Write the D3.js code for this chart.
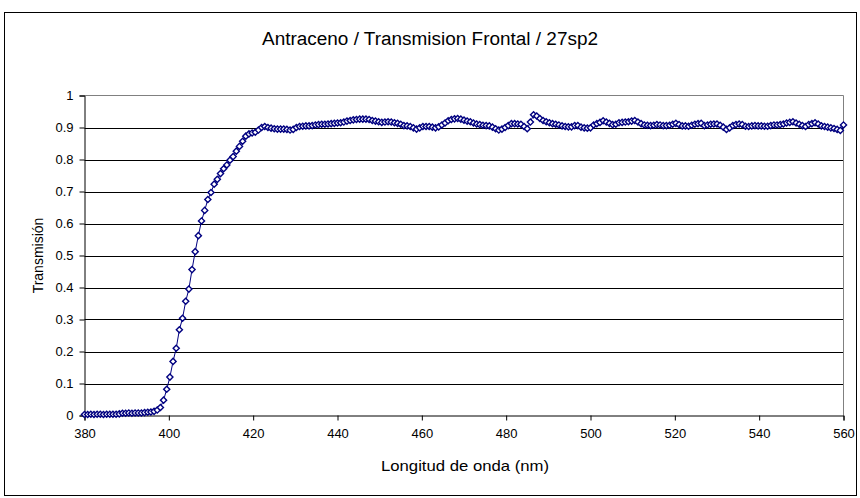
<!DOCTYPE html>
<html><head><meta charset="utf-8">
<script src="https://cdn.jsdelivr.net/npm/d3@7"></script>
<style>
html,body{margin:0;padding:0;background:#fff;}
svg{display:block;font-family:"Liberation Sans",Arial,sans-serif;}
</style></head>
<body>
<svg id="chart" width="860" height="498"></svg>
<script>
// ---- data ----
const titleText = "Antraceno / Transmision Frontal / 27sp2";
const xTitle = "Longitud de onda (nm)";
const yTitle = "Transmisión";
const xTicks = [380, 400, 420, 440, 460, 480, 500, 520, 540, 560];
const yTicks = [0, 0.1, 0.2, 0.3, 0.4, 0.5, 0.6, 0.7, 0.8, 0.9, 1];
const wlStart = 380, wlStep = 0.75;
const transmission = [
  0.003,0.003,0.004,0.003,0.004,0.004,0.003,0.004,0.004,0.004,0.004,0.005,
  0.007,0.007,0.008,0.007,0.008,0.008,0.008,0.009,
  0.010,0.011,0.013,0.017,
  0.025,0.048,0.082,0.120,0.169,0.210,0.268,0.304,0.357,0.395,
  0.456,0.512,0.562,0.608,0.641,0.675,0.697,0.723,0.738,0.756,
  0.771,0.783,0.798,0.809,0.826,0.841,0.857,0.873,0.880,0.883,
  0.885,0.892,0.900,0.903,
  // 423.5 ->
  0.900,0.898,0.896,0.895,0.895,0.895,0.894,0.892,0.894,0.900,
  0.903,0.904,0.905,0.905,0.906,0.908,0.909,0.910,0.910,0.911,
  0.912,0.913,0.914,0.915,0.917,0.920,0.922,0.924,0.925,0.926,
  0.926,0.926,0.925,0.922,0.920,0.918,0.916,0.917,0.918,0.917,
  0.915,0.913,0.910,0.906,0.905,0.903,0.899,0.895,0.899,0.903,
  0.903,0.903,0.901,0.899,0.902,0.908,0.914,0.921,0.925,0.927,
  0.928,0.926,0.923,0.920,0.918,0.914,0.911,0.909,0.907,0.906,
  0.905,0.901,0.896,0.892,0.895,0.900,0.906,0.912,0.912,0.911,
  0.910,0.903,0.896,0.917,0.940,0.936,0.928,0.922,0.918,0.915,
  0.912,0.910,0.908,0.905,0.903,0.902,0.902,0.906,0.906,0.901,
  0.899,0.898,0.899,0.908,0.912,0.916,0.921,0.917,0.913,0.909,
  0.910,0.915,0.916,0.917,0.918,0.920,0.922,0.917,0.912,0.908,
  0.907,0.906,0.907,0.909,0.908,0.906,0.906,0.907,0.910,0.913,
  0.909,0.905,0.905,0.904,0.907,0.910,0.912,0.913,0.906,0.908,
  0.910,0.911,0.911,0.907,0.901,0.894,0.899,0.906,0.909,0.911,
  0.909,0.904,0.903,0.905,0.906,0.905,0.905,0.904,0.904,0.906,
  0.908,0.908,0.909,0.911,0.914,0.916,0.918,0.914,0.910,0.906,
  0.903,0.909,0.912,0.915,0.911,0.905,0.903,0.901,0.899,0.897,
  0.894,0.891,0.908
];
const data = transmission.map((v, i) => ({ x: wlStart + i * wlStep, y: v }));

// ---- layout ----
const svg = d3.select("#chart");
const plot = { left: 84.5, right: 843.5, top: 95.5, bottom: 415.5 };

// outer border
svg.append("rect").attr("x", 4.5).attr("y", 12.5).attr("width", 852).attr("height", 483)
  .attr("fill", "#fff").attr("stroke", "#000").attr("stroke-width", 1);

const x = d3.scaleLinear().domain([380, 560]).range([plot.left, plot.right]);
const y = d3.scaleLinear().domain([0, 1]).range([plot.bottom, plot.top]);

// gridlines
svg.append("g").selectAll("line").data(yTicks.filter(t => t > 0 && t < 1)).join("line")
  .attr("x1", plot.left).attr("x2", plot.right)
  .attr("y1", d => Math.round(y(d)) + 0.5).attr("y2", d => Math.round(y(d)) + 0.5)
  .attr("stroke", "#000").attr("stroke-width", 1);

// plot area border (top/right gray)
svg.append("path")
  .attr("d", `M${plot.left},${plot.top}H${plot.right}V${plot.bottom}`)
  .attr("fill", "none").attr("stroke", "#808080").attr("stroke-width", 1);

// axes
const fmt = d => d === 0 ? "0" : d === 1 ? "1" : d3.format(".1f")(d);
const yAxis = d3.axisLeft(y).tickValues(yTicks).tickFormat(fmt).tickSize(5).tickPadding(6);
const xAxis = d3.axisBottom(x).tickValues(xTicks).tickFormat(d3.format("d")).tickSize(5).tickPadding(8);

const gy = svg.append("g").attr("transform", `translate(${plot.left},0)`).call(yAxis);
const gx = svg.append("g").attr("transform", `translate(0,${plot.bottom})`).call(xAxis);
[gx, gy].forEach(g => {
  g.select(".domain").attr("stroke", "#000");
  g.selectAll(".tick line").attr("stroke", "#000");
  g.selectAll(".tick text").attr("fill", "#000").attr("font-size", "13px")
    .attr("font-family", "'Liberation Sans', Arial, sans-serif");
});

// line
const line = d3.line().x(d => x(d.x)).y(d => y(d.y));
svg.append("path").datum(data).attr("d", line)
  .attr("fill", "none").attr("stroke", "#000080").attr("stroke-width", 1);

// markers (hollow diamonds)
const sym = d3.symbol().type(d3.symbolDiamond2).size(24);
svg.append("g").selectAll("path").data(data).join("path")
  .attr("transform", d => `translate(${x(d.x)},${y(d.y)})`)
  .attr("d", sym)
  .attr("fill", "#fff").attr("stroke", "#000080").attr("stroke-width", 1.4);

// titles
svg.append("text").attr("x", 430).attr("y", 45).attr("text-anchor", "middle")
  .attr("font-size", "18px").attr("fill", "#000")
  .attr("textLength", 336).attr("lengthAdjust", "spacingAndGlyphs").text(titleText);
svg.append("text").attr("x", 465).attr("y", 471).attr("text-anchor", "middle")
  .attr("font-size", "14.5px").attr("fill", "#000")
  .attr("textLength", 168).attr("lengthAdjust", "spacingAndGlyphs").text(xTitle);
svg.append("text").attr("transform", `translate(43,${(plot.top + plot.bottom) / 2}) rotate(-90)`)
  .attr("text-anchor", "middle").attr("font-size", "14px").attr("fill", "#000").text(yTitle);
</script>
</body></html>
